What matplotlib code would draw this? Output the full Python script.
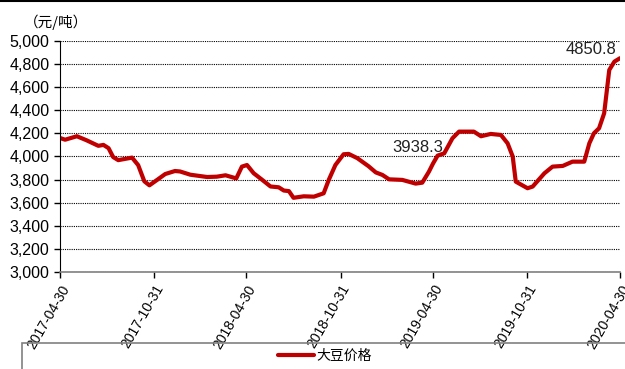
import matplotlib.pyplot as plt
import matplotlib.dates as mdates
import pandas as pd
from matplotlib.lines import Line2D
from matplotlib.patches import Rectangle

plt.rcParams['font.family'] = ['Liberation Sans', 'Noto Sans CJK SC', 'DejaVu Sans']

dates = [
    '2017-04-30', '2017-05-10', '2017-06-02', '2017-06-21', '2017-07-14', '2017-07-24',
    '2017-08-03', '2017-08-12', '2017-08-22', '2017-09-18', '2017-09-30', '2017-10-12',
    '2017-10-22', '2017-11-06', '2017-11-22', '2017-12-11', '2017-12-21', '2018-01-10',
    '2018-02-12', '2018-03-03', '2018-03-20', '2018-04-10', '2018-04-21', '2018-05-01',
    '2018-05-14', '2018-05-30', '2018-06-16', '2018-07-02', '2018-07-12', '2018-07-22',
    '2018-07-31', '2018-08-20', '2018-09-09', '2018-09-28', '2018-10-08', '2018-10-21',
    '2018-11-06', '2018-11-16', '2018-12-03', '2018-12-25', '2019-01-08', '2019-01-21',
    '2019-02-03', '2019-03-01', '2019-03-27', '2019-04-09', '2019-04-22', '2019-04-30',
    '2019-05-09', '2019-05-22', '2019-06-07', '2019-06-20', '2019-07-19', '2019-08-02',
    '2019-08-21', '2019-09-10', '2019-09-23', '2019-10-03', '2019-10-09', '2019-11-01',
    '2019-11-11', '2019-12-04', '2019-12-20', '2020-01-09', '2020-01-28', '2020-02-20',
    '2020-03-01', '2020-03-10', '2020-03-20', '2020-03-30', '2020-04-09', '2020-04-19',
    '2020-04-30',
]
prices = [
    4160, 4145, 4175, 4140, 4092, 4100,
    4072, 3995, 3968, 3990, 3925, 3785,
    3750, 3797, 3848, 3874, 3870, 3842,
    3822, 3825, 3837, 3810, 3912, 3926,
    3855, 3800, 3740, 3733, 3705, 3700,
    3642, 3655, 3652, 3681, 3797, 3926,
    4019, 4022, 3985, 3915, 3862, 3840,
    3802, 3797, 3765, 3773, 3868, 3938.3,
    4007, 4027, 4157, 4215, 4215, 4175,
    4195, 4186, 4114, 4000, 3782, 3725,
    3739, 3854, 3912, 3918, 3955, 3955,
    4114, 4201, 4244, 4374, 4749, 4821,
    4850.8,
]
tick_dates = ['2017-04-30', '2017-10-31', '2018-04-30', '2018-10-31',
              '2019-04-30', '2019-10-31', '2020-04-30']
labeled = {'2019-04-30': (-29, 8), '2020-04-30': (-39, 3)}

x = pd.to_datetime(dates)
fig = plt.figure(figsize=(6.25, 3.69), dpi=100)
ax = fig.add_axes([0.096, 0.263, 0.896, 0.626])

ax.plot(x, prices, color='#C00000', lw=3, solid_joinstyle='round',
        solid_capstyle='round', label='大豆价格')

ax.set_ylim(3000, 5000)
ax.set_yticks(range(3000, 5001, 200))
ax.yaxis.set_major_formatter(plt.FuncFormatter(lambda v, p: f'{int(v):,}'))
ax.set_xlim(pd.Timestamp(tick_dates[0]), pd.Timestamp(tick_dates[-1]))
ax.set_xticks(pd.to_datetime(tick_dates))
ax.xaxis.set_major_formatter(mdates.DateFormatter('%Y-%m-%d'))
plt.setp(ax.get_xticklabels(), rotation=60, ha='right', rotation_mode='anchor')
ax.tick_params(axis='both', direction='out', length=4, width=1)
ax.tick_params(axis='x', labelsize=10)
ax.tick_params(axis='y', labelsize=11.5)
ax.grid(axis='y', color='black', linestyle=(0, (1, 1)), lw=0.8)
ax.set_axisbelow(True)
for s in ['top', 'right']:
    ax.spines[s].set_visible(False)
ax.spines['bottom'].set_color('#808080')
ax.spines['bottom'].set_linewidth(1.2)
ax.spines['left'].set_color('black')

for d, off in labeled.items():
    i = dates.index(d)
    ax.annotate(f'{prices[i]}', (x[i], prices[i]), xytext=off,
                textcoords='offset points', fontsize=12, color='#222222')

fig.text(0.038, 0.94, '（元/吨）', fontsize=10.5, va='center',
         family=['Noto Sans CJK SC'])

fig.add_artist(Line2D([0, 1], [0.997, 0.997], color='black', lw=1.5))
fig.add_artist(Rectangle((0.035, -0.05), 1.0, 0.12, fill=False, ec='#808080', lw=1.2))
fig.legend(loc='center', bbox_to_anchor=(0.52, 0.036), frameon=False,
           handlelength=2.6, handletextpad=0.2,
           prop={'family': ['Noto Sans CJK SC'], 'size': 10})

fig.savefig('out.png', dpi=100)
